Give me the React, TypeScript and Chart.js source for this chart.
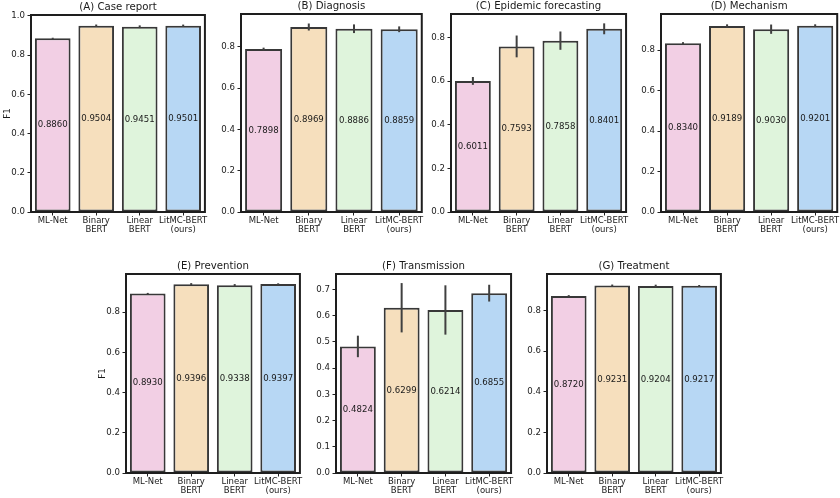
import React, { useEffect, useRef } from 'react';
import { Chart, registerables } from 'chart.js';

Chart.register(...registerables);

// ---------- data ----------
const categories: string[][] = [['ML-Net'], ['Binary', 'BERT'], ['Linear', 'BERT'], ['LitMC-BERT', '(ours)']];

const panelTitles = [
  '(A) Case report',
  '(B) Diagnosis',
  '(C) Epidemic forecasting',
  '(D) Mechanism',
  '(E) Prevention',
  '(F) Transmission',
  '(G) Treatment',
];

const caseReportF1 = [0.886, 0.9504, 0.9451, 0.9501];
const caseReportErr = [0.003, 0.006, 0.007, 0.006];
const diagnosisF1 = [0.7898, 0.8969, 0.8886, 0.8859];
const diagnosisErr = [0.007, 0.017, 0.021, 0.014];
const forecastingF1 = [0.6011, 0.7593, 0.7858, 0.8401];
const forecastingErr = [0.018, 0.05, 0.042, 0.025];
const mechanismF1 = [0.834, 0.9189, 0.903, 0.9201];
const mechanismErr = [0.005, 0.008, 0.023, 0.007];
const preventionF1 = [0.893, 0.9396, 0.9338, 0.9397];
const preventionErr = [0.003, 0.005, 0.006, 0.004];
const transmissionF1 = [0.4824, 0.6299, 0.6214, 0.6855];
const transmissionErr = [0.041, 0.094, 0.094, 0.032];
const treatmentF1 = [0.872, 0.9231, 0.9204, 0.9217];
const treatmentErr = [0.004, 0.005, 0.007, 0.004];

const panelValues = [caseReportF1, diagnosisF1, forecastingF1, mechanismF1, preventionF1, transmissionF1, treatmentF1];
const panelErrors = [caseReportErr, diagnosisErr, forecastingErr, mechanismErr, preventionErr, transmissionErr, treatmentErr];
const yAxisMax = [1.005, 0.96, 0.908, 0.978, 0.99, 0.7585, 0.98];
const yAxisStep = [0.2, 0.2, 0.2, 0.2, 0.2, 0.1, 0.2];
const yAxisTitle = ['F1', '', '', '', 'F1', '', ''];

// ---------- layout / style ----------
const plotRects = [
  { l: 31, t: 15, w: 175, h: 197 },
  { l: 241, t: 14, w: 181, h: 198 },
  { l: 451, t: 14, w: 176, h: 198 },
  { l: 661, t: 14, w: 177, h: 198 },
  { l: 126, t: 274, w: 175, h: 199 },
  { l: 336, t: 274, w: 176, h: 199 },
  { l: 547, t: 274, w: 175, h: 199 },
];
const PAD_L = 32;
const PAD_T = 16;
const PAD_R = 2;
const PAD_B = 30;

const barColors = ['#F2CFE4', '#F6DFBD', '#DFF4DC', '#B7D7F4'];
const FONT = '"DejaVu Sans", sans-serif';
const TEXT = '#1a1a1a';

function Panel({ idx }: { idx: number }) {
  const ref = useRef<HTMLCanvasElement>(null);
  const r = plotRects[idx];
  const W = r.w + PAD_L + PAD_R;
  const H = r.h + PAD_T + PAD_B;

  useEffect(() => {
    const values = panelValues[idx];
    const errs = panelErrors[idx];
    const step = yAxisStep[idx];
    const extras = {
      id: 'extras' + idx,
      afterDatasetsDraw(chart: any) {
        const ctx = chart.ctx;
        const y = chart.scales.y;
        const meta = chart.getDatasetMeta(0);
        meta.data.forEach((bar: any, i: number) => {
          const v = values[i];
          const e = errs[i];
          ctx.save();
          ctx.strokeStyle = '#404040';
          ctx.lineWidth = 2;
          ctx.beginPath();
          ctx.moveTo(bar.x, y.getPixelForValue(v - e));
          ctx.lineTo(bar.x, y.getPixelForValue(v + e));
          ctx.stroke();
          ctx.fillStyle = TEXT;
          ctx.font = '8.6px ' + FONT;
          ctx.textAlign = 'center';
          ctx.textBaseline = 'middle';
          ctx.fillText(v.toFixed(4), bar.x, y.getPixelForValue(v / 2));
          ctx.restore();
        });
      },
      afterDraw(chart: any) {
        const ctx = chart.ctx;
        const a = chart.chartArea;
        ctx.save();
        ctx.strokeStyle = '#1e1e1e';
        ctx.lineWidth = 2;
        ctx.strokeRect(a.left, a.top, a.right - a.left, a.bottom - a.top);
        ctx.fillStyle = TEXT;
        ctx.font = '10.2px ' + FONT;
        ctx.textAlign = 'center';
        ctx.textBaseline = 'bottom';
        ctx.fillText(panelTitles[idx], (a.left + a.right) / 2, a.top - 3);
        if (yAxisTitle[idx]) {
          ctx.translate(a.left - 23, (a.top + a.bottom) / 2);
          ctx.rotate(-Math.PI / 2);
          ctx.font = '8.6px ' + FONT;
          ctx.textBaseline = 'middle';
          ctx.fillText(yAxisTitle[idx], 0, 0);
        }
        ctx.restore();
      },
    };

    const chart = new Chart(ref.current as HTMLCanvasElement, {
      type: 'bar',
      data: {
        labels: categories,
        datasets: [
          {
            data: values,
            backgroundColor: barColors,
            borderColor: '#383838',
            borderWidth: 2,
            borderSkipped: false,
            categoryPercentage: 0.82,
            barPercentage: 1,
          },
        ],
      },
      options: {
        responsive: false,
        animation: false,
        layout: { padding: { left: 0, top: PAD_T, right: PAD_R, bottom: 0 } },
        plugins: { legend: { display: false }, tooltip: { enabled: false }, title: { display: false } },
        scales: {
          x: {
            offset: true,
            grid: { display: true, drawOnChartArea: false, offset: false, tickLength: 3.5, color: '#222', lineWidth: 1 },
            border: { display: false },
            ticks: { color: TEXT, font: { family: FONT, size: 8.5, lineHeight: 1.12 }, padding: 0.5, maxRotation: 0, autoSkip: false },
            afterFit: (s: any) => {
              s.height = PAD_B;
            },
          },
          y: {
            min: 0,
            max: yAxisMax[idx],
            grid: { display: true, drawOnChartArea: false, tickLength: 3.5, color: '#222', lineWidth: 1 },
            border: { display: false },
            ticks: {
              stepSize: step,
              includeBounds: false,
              color: TEXT,
              font: { family: FONT, size: 8.6 },
              padding: 2.5,
              callback: (v: any) => Number(v).toFixed(1),
            },
            afterBuildTicks: (s: any) => {
              s.ticks = s.ticks.filter((t: any) => Math.abs(t.value / step - Math.round(t.value / step)) < 1e-6);
            },
            afterFit: (s: any) => {
              s.width = PAD_L;
            },
          },
        },
      },
      plugins: [extras],
    } as any);
    return () => chart.destroy();
  }, [idx]);

  return (
    <canvas
      ref={ref}
      width={W}
      height={H}
      style={{ position: 'absolute', left: r.l - PAD_L, top: r.t - PAD_T, width: W, height: H }}
    />
  );
}

export default function App() {
  return (
    <div style={{ position: 'absolute', left: 0, top: 0, width: 840, height: 498, background: '#fff', overflow: 'hidden' }}>
      {plotRects.map((_, i) => (
        <Panel key={i} idx={i} />
      ))}
    </div>
  );
}
